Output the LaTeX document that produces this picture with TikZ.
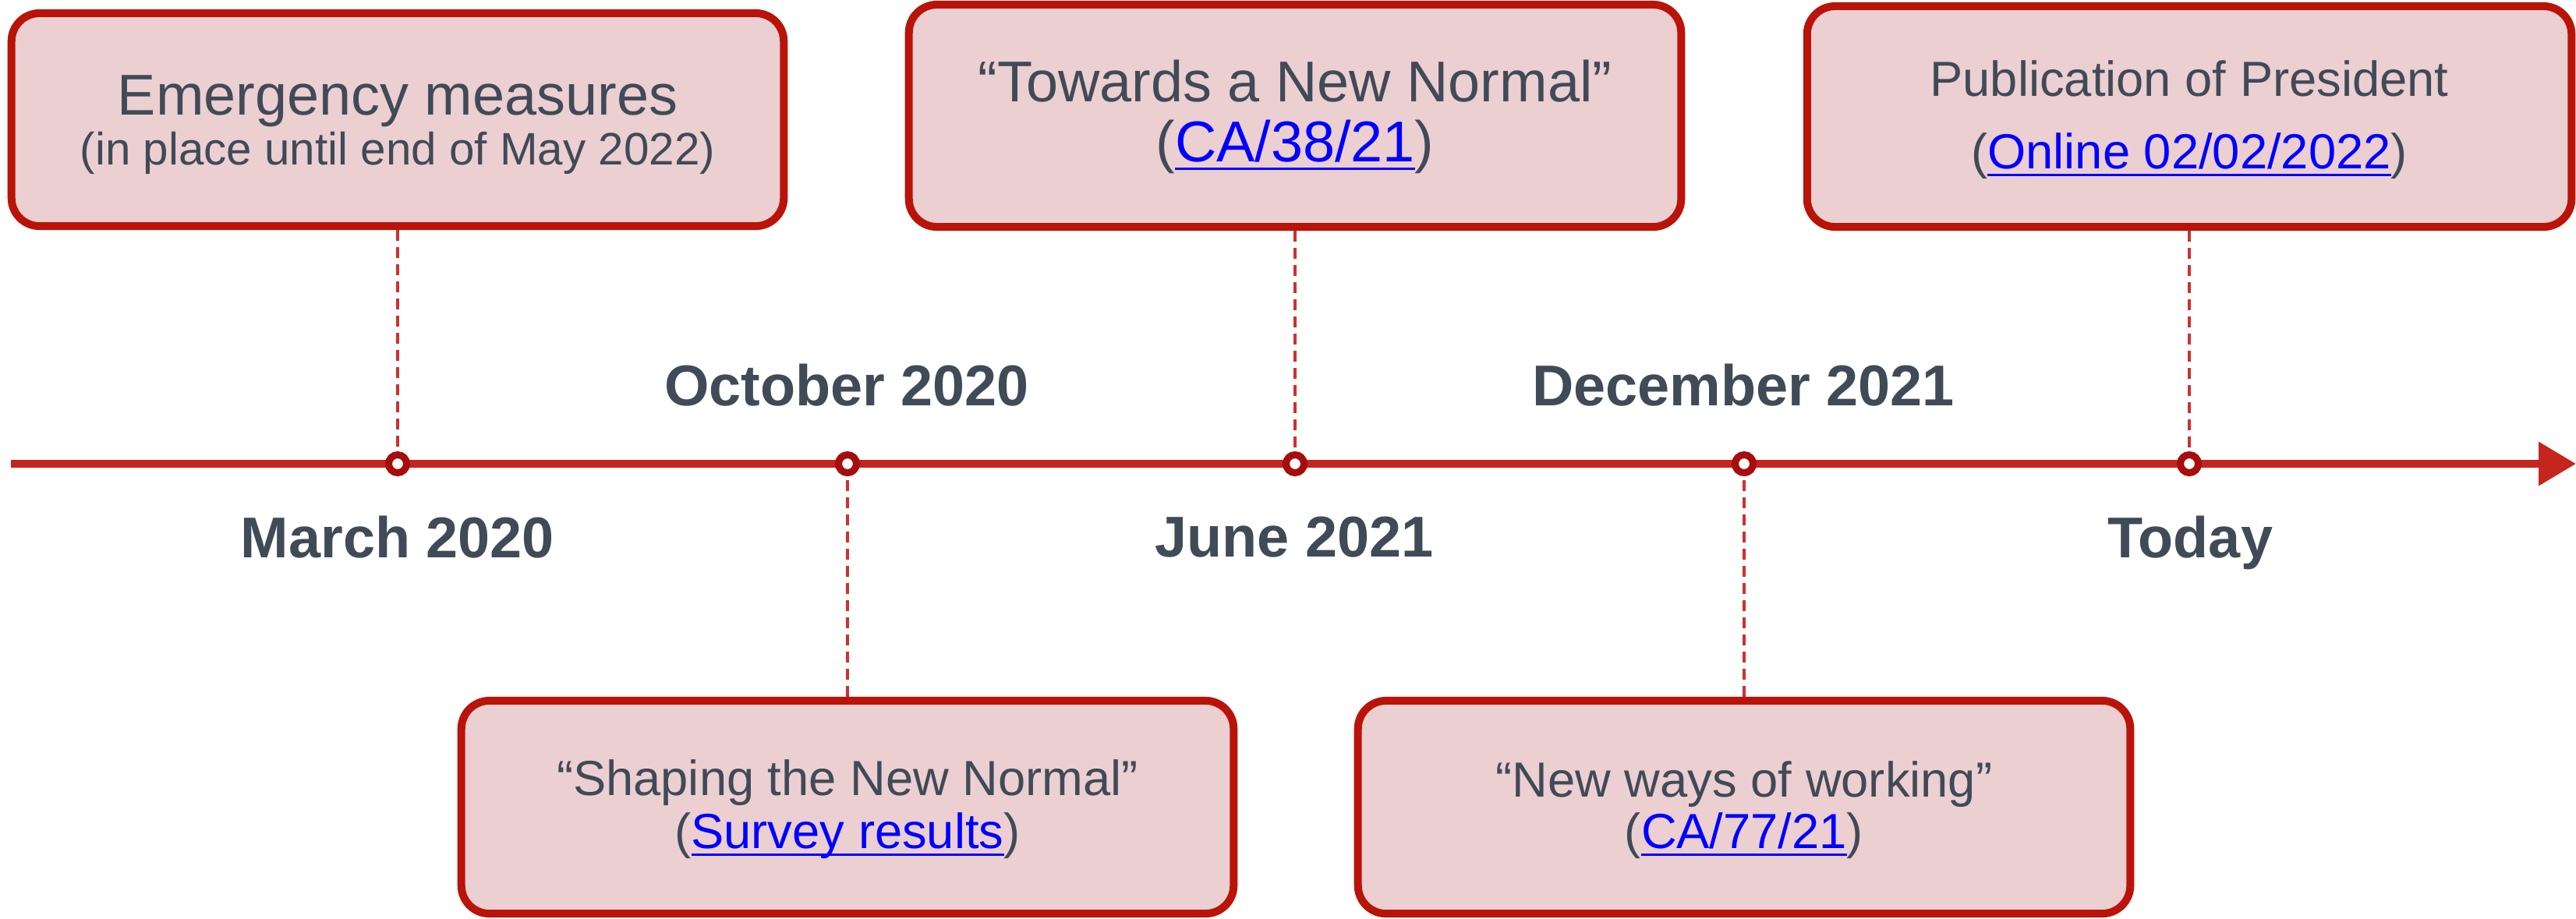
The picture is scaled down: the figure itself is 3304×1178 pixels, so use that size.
\documentclass[tikz,border=0pt]{standalone}
\usepackage{fontspec}
\setmainfont{Liberation Sans}
\usetikzlibrary{arrows.meta}
\definecolor{txtgray}{HTML}{414A57}
\definecolor{boxfill}{HTML}{EBCFD1}
\definecolor{boxline}{HTML}{BA1309}
\definecolor{tlred}{HTML}{C4251C}
\definecolor{ringred}{HTML}{A80C0C}
\definecolor{dashred}{HTML}{CF3030}
\definecolor{linkblue}{HTML}{0000FF}
\newcommand\mylink[1]{{\color{linkblue}\setbox0\hbox{#1}\rlap{\rule[-0.155em]{\wd0}{0.045em}}\box0}}
\begin{document}
\begin{tikzpicture}[x=0.01cm,y=-0.01cm,
  eventbox/.style={draw=boxline, fill=boxfill, line width=1mm, rounded corners=3.6mm,
    minimum width=9.9cm, minimum height=2.73cm, inner sep=0pt},
  bigtxt/.style={text=txtgray, font=\fontsize{21}{25}\selectfont, inner sep=0pt, anchor=base},
  subtxt/.style={text=txtgray, font=\fontsize{16.6}{20}\selectfont, inner sep=0pt, anchor=base},
  smalltxt/.style={text=txtgray, font=\fontsize{18}{22}\selectfont, inner sep=0pt, anchor=base},
  datelbl/.style={text=txtgray, font=\bfseries\fontsize{21}{25}\selectfont, inner sep=0pt, anchor=base},
  marker/.style={circle, draw=ringred, fill=white, line width=0.9mm, minimum size=2.3mm, inner sep=0pt},
  guide/.style={dashred, line width=0.35mm, dash pattern=on 1.4mm off 0.8mm},
  timeline/.style={tlred, line width=1mm}
]
\useasboundingbox (0,0) rectangle (3304,1178);

% timeline
\coordinate (tls) at (14,595);
\coordinate (tle) at (3304,595);
\draw[timeline, -{Triangle[length=4.8mm,width=5.4mm]}] (tls) -- (tle);

% markers
\node[marker] (m1) at (510,595) {};
\node[marker] (m2) at (1087,595) {};
\node[marker] (m3) at (1661,595) {};
\node[marker] (m4) at (2237,595) {};
\node[marker] (m5) at (2808,595) {};

% boxes
\node[eventbox] (b1) at (510,153.5) {};
\node[eventbox, minimum height=2.85cm] (b2) at (1661,148.5) {};
\node[eventbox, minimum width=9.8cm, minimum height=2.83cm] (b3) at (2808,149.5) {};
\node[eventbox] (b4) at (1087,1035.5) {};
\node[eventbox] (b5) at (2237,1035.5) {};

% guides
\draw[guide] (b1.south) -- (m1);
\draw[guide] (b2.south) -- (m3);
\draw[guide] (b3.south) -- (m5);
\draw[guide] (b4.north) -- (m2);
\draw[guide] (b5.north) -- (m4);

% box texts
\node[bigtxt] (t1a) at (510,147) {Emergency measures};
\node[subtxt] (t1b) at (510,211) {(in place until end of May 2022)};
\node[bigtxt] (t2a) at (1661,130) {“Towards a New Normal”};
\node[bigtxt] (t2b) at (1661,207) {(\mylink{CA/38/21})};
\node[smalltxt] (t3a) at (2808,123) {Publication of President};
\node[smalltxt] (t3b) at (2808,216) {(\mylink{Online 02/02/2022})};
\node[smalltxt] (t4a) at (1087,1020) {“Shaping the New Normal”};
\node[smalltxt] (t4b) at (1087,1088) {(\mylink{Survey results})};
\node[smalltxt] (t5a) at (2237,1022) {“New ways of working”};
\node[smalltxt] (t5b) at (2237,1088) {(\mylink{CA/77/21})};

% date labels
\node[datelbl] (d2) at (1086,520) {October 2020};
\node[datelbl] (d4) at (2236,520) {December 2021};
\node[datelbl] (d1) at (510,715) {March 2020};
\node[datelbl] (d3) at (1660,714) {June 2021};
\node[datelbl] (d5) at (2809,715) {Today};
\end{tikzpicture}
\end{document}
